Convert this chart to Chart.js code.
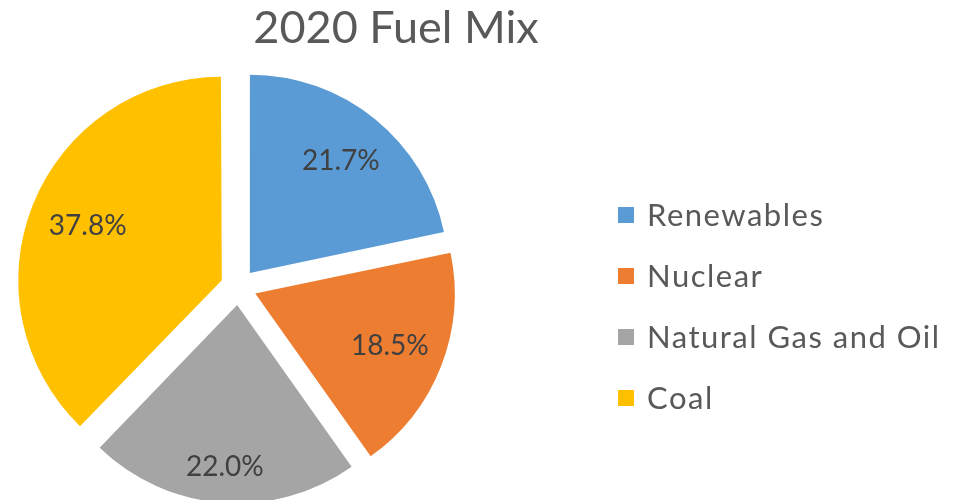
<!DOCTYPE html>
<html>
<head>
<meta charset="utf-8">
<title>2020 Fuel Mix</title>
<script src="https://cdn.jsdelivr.net/npm/chart.js@4/dist/chart.umd.min.js"></script>
<style>
    body { margin: 0; background: #ffffff; }
    #piecanvas { display: block; }
</style>
</head>
<body>
<canvas id="piecanvas" width="971" height="500"></canvas>
<script>
//Fuel mix for 2020, percent of total
var chartTitle = '2020 Fuel Mix';
var categories = ['Renewables', 'Nuclear', 'Natural Gas and Oil', 'Coal'];
var shares = [21.7, 18.5, 22.0, 37.8];

//Office-style palette, one colour per category
var sliceColors = ['#5B9BD5', '#ED7D31', '#A5A5A5', '#FFC000'];

var fontName = 'Lato, "Open Sans", sans-serif';

//Draws the title, the percent label in each slice and the legend on the right
var fuelMixText = {
    id: 'fuelMixText',
    afterDraw: function (chart, args, opts) {
        var ctx = chart.ctx;
        var meta = chart.getDatasetMeta(0);
        var data = chart.data.datasets[0].data;

        ctx.save();

        //Title
        ctx.fillStyle = '#595959';
        ctx.font = opts.titleSize + 'px ' + fontName;
        ctx.textAlign = 'center';
        ctx.textBaseline = 'alphabetic';
        ctx.fillText(chartTitle, opts.titleX, opts.titleY);

        //Percent labels, pushed along the middle of each exploded slice
        ctx.fillStyle = '#404040';
        ctx.font = opts.labelSize + 'px ' + fontName;
        ctx.textBaseline = 'middle';
        for (var i = 0; i < meta.data.length; i++) {
            var arc = meta.data[i];
            var p = arc.getProps(['x', 'y', 'startAngle', 'endAngle', 'outerRadius']);
            var mid = (p.startAngle + p.endAngle) / 2;
            var dist = opts.explode + opts.labelRadius[i] * p.outerRadius;
            ctx.fillText(data[i].toFixed(1) + '%', p.x + Math.cos(mid) * dist, p.y + Math.sin(mid) * dist);
        }

        //Legend (a little tracking so the names run as wide as the office font)
        ctx.font = opts.legendSize + 'px ' + fontName;
        ctx.textAlign = 'left';
        ctx.letterSpacing = opts.legendSpacing;
        for (var j = 0; j < chart.data.labels.length; j++) {
            var rowY = opts.legendY + j * opts.legendStep;
            ctx.fillStyle = chart.data.datasets[0].backgroundColor[j];
            ctx.fillRect(opts.legendX, rowY - 8, 16, 16);
            ctx.fillStyle = '#595959';
            ctx.fillText(chart.data.labels[j], opts.legendX + 29, rowY + 1);
        }

        ctx.restore();
    }
};

function addPieChart() {
    var canvas = document.getElementById("piecanvas");
    var ctx = canvas.getContext("2d");

    new Chart(ctx, {
        type: 'pie',
        data: {
            labels: categories,
            datasets: [{
                data: shares,
                backgroundColor: sliceColors,
                borderWidth: 0,
                //arc offset is quartered when drawn, so 72 moves each slice out 18px
                offset: 72
            }]
        },
        options: {
            responsive: false,
            animation: false,
            devicePixelRatio: 1,
            radius: 198,
            layout: {
                padding: { left: 0, right: 494, top: 74, bottom: 0 }
            },
            plugins: {
                legend: { display: false },
                tooltip: { enabled: false },
                fuelMixText: {
                    titleSize: 45,
                    titleX: 396,
                    titleY: 43,
                    labelSize: 28,
                    labelRadius: [0.73, 0.73, 0.82, 0.73],
                    explode: 18,
                    legendSize: 31,
                    legendSpacing: '1.5px',
                    legendX: 618,
                    legendY: 215,
                    legendStep: 61
                }
            }
        },
        plugins: [fuelMixText]
    });
}

addPieChart();
</script>
</body>
</html>
